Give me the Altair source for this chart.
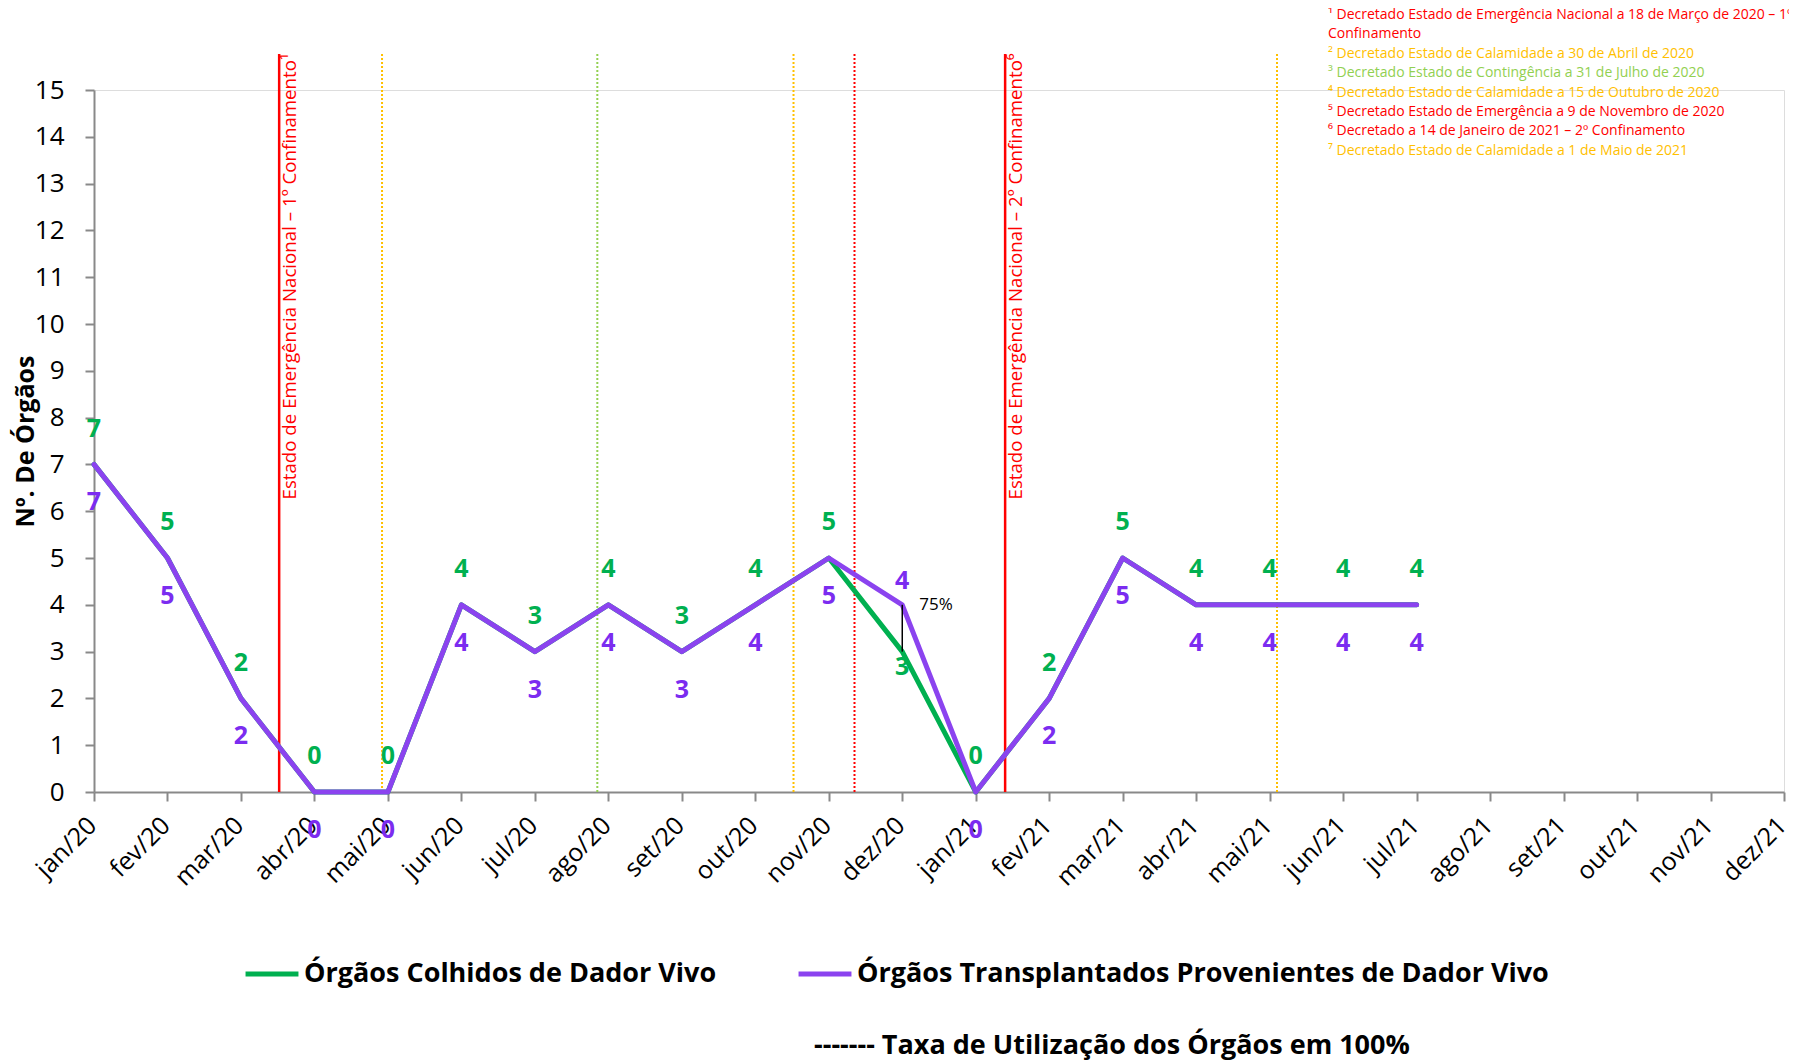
import json
import altair as alt
import pandas as pd

# ---------------- data ----------------
months = ["jan/20", "fev/20", "mar/20", "abr/20", "mai/20", "jun/20", "jul/20", "ago/20",
          "set/20", "out/20", "nov/20", "dez/20", "jan/21", "fev/21", "mar/21", "abr/21",
          "mai/21", "jun/21", "jul/21", "ago/21", "set/21", "out/21", "nov/21", "dez/21"]
colhidos = [7, 5, 2, 0, 0, 4, 3, 4, 3, 4, 5, 3, 0, 2, 5, 4, 4, 4, 4]
transplantados = [7, 5, 2, 0, 0, 4, 3, 4, 3, 4, 5, 4, 0, 2, 5, 4, 4, 4, 4]
series_names = ["Órgãos Colhidos de Dador Vivo",
                "Órgãos Transplantados Provenientes de Dador Vivo"]
line_colors = ["#00B050", "#8B43EF"]
label_colors = ["#00B050", "#7B2CF0"]

# decree events (x, in month-index units)
event_x = [2.52, 3.92, 6.85, 9.52, 10.35, 12.40, 16.10]
event_type = ["Emergência", "Calamidade", "Contingência", "Calamidade",
              "Emergência", "Emergência", "Calamidade"]
event_lockdown = [True, False, False, False, False, True, False]
lockdown_labels = ["Estado de Emergência Nacional – 1º Confinamento¹",
                   "Estado de Emergência Nacional – 2º Confinamento⁶"]
type_domain = ["Emergência", "Calamidade", "Contingência"]
type_colors = ["#FF0000", "#FFC000", "#92D050"]

notes = [
    "¹  Decretado Estado de Emergência Nacional a 18 de Março de 2020 – 1º\nConfinamento",
    "² Decretado Estado de Calamidade a 30 de Abril de 2020",
    "³ Decretado Estado de Contingência a 31 de Julho de 2020",
    "⁴ Decretado Estado de Calamidade a 15 de Outubro de 2020",
    "⁵ Decretado Estado de Emergência a 9  de Novembro de 2020",
    "⁶ Decretado a 14 de Janeiro de 2021 – 2º Confinamento",
    "⁷ Decretado Estado de Calamidade a 1 de  Maio de 2021",
]
note_type = event_type
y_title = "Nº. De Órgãos"
rate_note = "------- Taxa de Utilização dos Órgãos em 100%"

# ---------------- layout constants ----------------
FONT = "Open Sans"
W, H = 1690, 702
Y_TOP = 15.77

# ---------------- tables ----------------
rows = []
for s, (name, vals, other) in enumerate([(series_names[0], colhidos, transplantados),
                                         (series_names[1], transplantados, colhidos)]):
    for i, v in enumerate(vals):
        rows.append({"idx": i, "valor": v, "outro": other[i], "serie": name, "s": s})
long_df = pd.DataFrame(rows)
wide_df = pd.DataFrame({"idx": list(range(len(colhidos))),
                        "colhidos": colhidos, "transplantados": transplantados})
events_df = pd.DataFrame({"idx": event_x, "tipo": event_type, "conf": event_lockdown})
lock_df = events_df[events_df["conf"]].copy()
lock_df["texto"] = lockdown_labels

note_lines = []
for txt, t in zip(notes, note_type):
    for part in txt.split("\n"):
        note_lines.append((part, t))

# ---------------- scales / axes ----------------
x_scale = alt.Scale(domain=[0, len(months) - 1], nice=False, zero=False)
y_scale = alt.Scale(domain=[0, 15], nice=False, zero=True)
axis_gray = "#898989"
x_axis = alt.Axis(values=list(range(len(months))),
                  labelExpr=f"{json.dumps(months)}[datum.value]",
                  labelAngle=315, labelAlign="right", labelBaseline="middle",
                  labelFontSize=25, labelColor="black", labelPadding=20,
                  labelOffset=-2,
                  labelOverlap=False, labelFlush=False, labelBound=False,
                  tickSize=9, tickColor=axis_gray, tickWidth=2,
                  domainColor=axis_gray, domainWidth=2, grid=False, title=None)
y_axis = alt.Axis(values=list(range(16)), labelFontSize=26, labelColor="black",
                  labelPadding=21, tickSize=9, tickColor=axis_gray, tickWidth=2,
                  domainColor=axis_gray, domainWidth=2, grid=False,
                  title=y_title, titleFontSize=25, titleFontWeight="bold",
                  titleColor="black", titleAngle=270, titleX=-69, titleY=H / 2,
                  titleAlign="center", titleBaseline="middle")


def X(field):
    return alt.X(field, scale=x_scale, axis=x_axis)


def Y(field):
    return alt.Y(field, scale=y_scale, axis=y_axis)


stroke_type = alt.Stroke("tipo:N", scale=alt.Scale(domain=type_domain, range=type_colors), legend=None)


def fill_type():
    return alt.Fill("tipo:N", scale=alt.Scale(domain=type_domain, range=type_colors), legend=None)


color_series = alt.Color(
    "serie:N",
    scale=alt.Scale(domain=series_names, range=line_colors),
    legend=alt.Legend(orient="none", legendX=149, legendY=855, direction="horizontal",
                      title=None, symbolType="stroke", symbolSize=2800,
                      symbolStrokeWidth=5, labelFontSize=27, labelFontWeight="bold",
                      labelFont=FONT, labelColor="black", labelLimit=0,
                      labelOffset=3, columnPadding=71, padding=0),
)

# ---------------- layers ----------------
ev = alt.Chart(events_df)
rules_solid = ev.transform_filter("datum.conf").mark_rule(strokeWidth=2.5).encode(
    x=X("idx:Q"), y=alt.Y(datum=0, scale=y_scale, axis=y_axis), y2=alt.datum(Y_TOP),
    stroke=stroke_type)
rules_dot = ev.transform_filter("!datum.conf").mark_rule(strokeWidth=2, strokeDash=[2, 2]).encode(
    x=X("idx:Q"), y=alt.Y(datum=0, scale=y_scale, axis=y_axis), y2=alt.datum(Y_TOP),
    stroke=stroke_type)

lock_text = alt.Chart(lock_df).mark_text(
    angle=270, align="left", baseline="top", fontSize=18.7, font=FONT, dy=2
).encode(x=X("idx:Q"), y=alt.Y(datum=6.25, scale=y_scale, axis=y_axis),
         text="texto:N", fill=fill_type())

line_g = alt.Chart(long_df).transform_filter("datum.s == 0").mark_line(
    strokeWidth=5, strokeCap="round", strokeJoin="round"
).encode(x=X("idx:Q"), y=Y("valor:Q"), color=color_series)
line_p = alt.Chart(long_df).transform_filter("datum.s == 1").mark_line(
    strokeWidth=5, strokeCap="round", strokeJoin="round"
).encode(x=X("idx:Q"), y=Y("valor:Q"), color=color_series)

diff = alt.Chart(wide_df).transform_filter(
    "datum.colhidos != datum.transplantados && datum.transplantados > 0")
rule_rate = diff.mark_rule(color="black", strokeWidth=1.5).encode(
    x=X("idx:Q"), y=Y("colhidos:Q"), y2="transplantados:Q")
text_rate = diff.transform_calculate(
    taxa="format(datum.colhidos / datum.transplantados, '.0%')"
).mark_text(align="left", baseline="middle", dx=17, fontSize=17, font=FONT, color="black").encode(
    x=X("idx:Q"), y=Y("transplantados:Q"), text="taxa:N")

labels = alt.Chart(long_df).transform_calculate(
    ly="datum.s == 0 ? (datum.valor >= datum.outro ? datum.valor + 0.76 : datum.valor - 0.32)"
       " : (datum.valor <= datum.outro ? datum.valor - 0.81 : datum.valor + 0.51)"
).mark_text(font=FONT, fontSize=25, fontWeight="bold", baseline="middle").encode(
    x=X("idx:Q"), y=Y("ly:Q"), text="valor:Q",
    color=alt.condition("datum.s == 0", alt.value(label_colors[0]), alt.value(label_colors[1])),
)

note_layers = []
for i, (txt, t) in enumerate(note_lines):
    note_layers.append(
        alt.Chart(pd.DataFrame({"t": [txt], "tipo": [t]})).mark_text(
            align="left", baseline="alphabetic", fontSize=14, font=FONT
        ).encode(x=alt.value(1234), y=alt.value(-71 + i * 19.4), text="t:N", fill=fill_type())
    )

rate_layer = alt.Chart(pd.DataFrame({"t": [rate_note]})).mark_text(
    align="left", baseline="alphabetic", fontSize=27, fontWeight="bold", font=FONT, color="black"
).encode(x=alt.value(720), y=alt.value(964), text="t:N")

chart = alt.layer(
    rules_solid, rules_dot, lock_text, line_g, line_p, rule_rate, text_rate, labels,
    *note_layers, rate_layer
).properties(
    width=W, height=H,
    padding={"left": 86, "top": 82, "right": 5, "bottom": 269},
    autosize=alt.AutoSizeParams(type="none"),
).configure_view(stroke=None).configure(font=FONT)

chart.save("out.html", embed_options={"renderer": "svg", "actions": False})
